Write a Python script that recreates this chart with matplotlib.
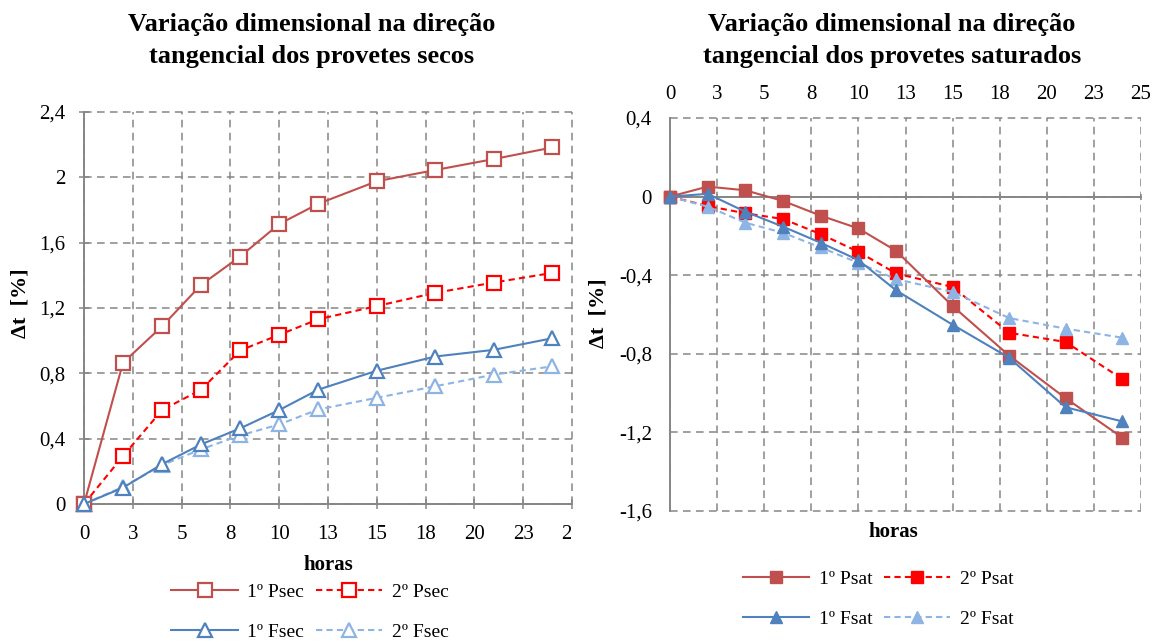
import matplotlib
matplotlib.use("Agg")
import matplotlib.pyplot as plt
from matplotlib.ticker import FixedLocator
from matplotlib.transforms import Bbox

plt.rcParams['font.family'] = ['Liberation Serif', 'DejaVu Serif']

# ---- data ----
horas = [0, 2, 4, 6, 8, 10, 12, 15, 18, 21, 24]

psec1 = [0, 0.865, 1.088, 1.342, 1.515, 1.714, 1.838, 1.976, 2.045, 2.112, 2.183]
psec2 = [0, 0.294, 0.575, 0.700, 0.940, 1.036, 1.131, 1.212, 1.293, 1.356, 1.415]
fsec1 = [0, 0.100, 0.244, 0.365, 0.463, 0.575, 0.700, 0.816, 0.903, 0.944, 1.015]
fsec2 = [0, 0.105, 0.238, 0.335, 0.420, 0.487, 0.579, 0.650, 0.721, 0.792, 0.843]

psat1 = [0, 0.051, 0.032, -0.022, -0.097, -0.162, -0.276, -0.557, -0.809, -1.026, -1.226]
psat2 = [0, -0.048, -0.085, -0.114, -0.191, -0.281, -0.391, -0.460, -0.693, -0.740, -0.928]
fsat1 = [0, 0.014, -0.077, -0.153, -0.235, -0.323, -0.477, -0.652, -0.820, -1.072, -1.144]
fsat2 = [0, -0.051, -0.133, -0.184, -0.259, -0.337, -0.420, -0.485, -0.618, -0.672, -0.718]

xticks = [0, 2.5, 5, 7.5, 10, 12.5, 15, 17.5, 20, 22.5, 25]
xticklabels = ['0', '3', '5', '8', '10', '13', '15', '18', '20', '23', '25']
yticks_sec = [0, 0.4, 0.8, 1.2, 1.6, 2.0, 2.4]
yticklabels_sec = ['0', '0,4', '0,8', '1,2', '1,6', '2', '2,4']
yticks_sat = [-1.6, -1.2, -0.8, -0.4, 0, 0.4]
yticklabels_sat = ['-1,6', '-1,2', '-0,8', '-0,4', '0', '0,4']

title_sec = 'Variação dimensional na direção\ntangencial dos provetes secos'
title_sat = 'Variação dimensional na direção\ntangencial dos provetes saturados'
labels_sec = ['1º Psec', '2º Psec', '1º Fsec', '2º Fsec']
labels_sat = ['1º Psat', '2º Psat', '1º Fsat', '2º Fsat']

c_p1 = '#C0504D'
c_p2 = '#FF0000'
c_f1 = '#4F81BD'
c_f2 = '#8EB4E3'
gridc = '#868686'

W, H = 1156, 642
fig = plt.figure(figsize=(W / 100, H / 100), dpi=100)

def px_axes(l, r, t, b):
    return fig.add_axes([l / W, (H - b) / H, (r - l) / W, (b - t) / H])

L1, R1, T1, B1 = 84, 572, 112, 504
L2, R2, T2, B2 = 670, 1141, 118, 511
ax1 = px_axes(L1, R1, T1, B1)
ax2 = px_axes(L2, R2, T2, B2)

FS = 15
LFS = 14
TFS = 19

def style(ax, yticks, ylabels):
    ax.set_xlim(0, 25)
    ax.set_ylim(yticks[0], yticks[-1])
    ax.xaxis.set_major_locator(FixedLocator(xticks))
    ax.set_xticklabels(xticklabels)
    ax.yaxis.set_major_locator(FixedLocator(yticks))
    ax.set_yticklabels(ylabels)
    ax.grid(True, color=gridc, linestyle=(0, (5, 3.5)), linewidth=1.1)
    for s in ['top', 'right']:
        ax.spines[s].set_visible(False)
    for s in ['left', 'bottom']:
        ax.spines[s].set_color(gridc)
        ax.spines[s].set_linewidth(1.4)
    ax.tick_params(colors=gridc, labelcolor='black', labelsize=FS, width=1.1)
    for gl in ax.get_xgridlines() + ax.get_ygridlines():
        gl.set_clip_on(False)

def legend(ax, handles, labels, cx, cy):
    # reorder so rows read: 1º P, 2º P / 1º F, 2º F
    order = [0, 2, 1, 3]
    ax.legend([handles[i] for i in order], [labels[i] for i in order],
              loc='center', bbox_to_anchor=(cx / W, (H - cy) / H), bbox_transform=fig.transFigure,
              ncol=2, frameon=False, fontsize=LFS, handlelength=3.4, handletextpad=0.5,
              columnspacing=0.6, labelspacing=1.15, borderaxespad=0)

# ---- left chart ----
style(ax1, yticks_sec, yticklabels_sec)
ax1.tick_params(axis='both', direction='inout', length=7)
ax1.tick_params(axis='y', pad=10)
ax1.tick_params(axis='x', pad=11.5)
ms = 9.5
h = []
h += ax1.plot(horas, psec1, color=c_p1, lw=1.5, marker='s', ms=ms, mfc='white', mec=c_p1, mew=1.6, clip_on=False, zorder=5)
h += ax1.plot(horas, psec2, color=c_p2, lw=1.5, ls=(0, (3, 2)), marker='s', ms=ms, mfc='white', mec=c_p2, mew=1.6, clip_on=False, zorder=4)
h += ax1.plot(horas, fsec1, color=c_f1, lw=1.5, marker='^', ms=ms, mfc='white', mec=c_f1, mew=1.6, clip_on=False, zorder=5)
h += ax1.plot(horas, fsec2, color=c_f2, lw=1.5, ls=(0, (3, 2)), marker='^', ms=ms, mfc='white', mec=c_f2, mew=1.6, clip_on=False, zorder=4)
ax1.set_ylabel('Δt  [%]', fontsize=16, fontweight='bold', va='center')
ax1.yaxis.set_label_coords((21 - L1) / (R1 - L1), (B1 - 303) / (B1 - T1))
ax1.set_xlabel('horas', fontsize=FS, fontweight='bold', va='center')
ax1.xaxis.set_label_coords((328 - L1) / (R1 - L1), (B1 - 565) / (B1 - T1))
ax1.set_title(title_sec, fontsize=TFS, fontweight='bold', x=(312 - L1) / (R1 - L1),
              y=(B1 - 40.5) / (B1 - T1), va='center', linespacing=1.49, pad=0)
# last x tick label is cut at the chart edge, as in the original
clipbox = Bbox.from_extents(0, 0, 571, H)
for lab in ax1.get_xticklabels():
    lab.set_clip_box(clipbox)
    lab.set_clip_on(True)
legend(ax1, h, labels_sec, 310, 612)

# ---- right chart ----
style(ax2, yticks_sat, yticklabels_sat)
ax2.spines['bottom'].set_position(('data', 0))
ax2.tick_params(axis='y', length=0, pad=13)
ax2.tick_params(axis='x', bottom=True, labelbottom=False, top=False, labeltop=True,
                direction='inout', length=4, pad=8)
ms2 = 8.5
h2 = []
h2 += ax2.plot(horas, psat1, color=c_p1, lw=1.5, marker='s', ms=ms2, mfc=c_p1, mec=c_p1, clip_on=False, zorder=5)
h2 += ax2.plot(horas, psat2, color=c_p2, lw=1.5, ls=(0, (3, 2)), marker='s', ms=ms2, mfc=c_p2, mec=c_p2, clip_on=False, zorder=4)
h2 += ax2.plot(horas, fsat1, color=c_f1, lw=1.5, marker='^', ms=ms2, mfc=c_f1, mec=c_f1, clip_on=False, zorder=5)
h2 += ax2.plot(horas, fsat2, color=c_f2, lw=1.5, ls=(0, (3, 2)), marker='^', ms=ms2, mfc=c_f2, mec=c_f2, clip_on=False, zorder=4)
ax2.set_ylabel('Δt  [%]', fontsize=16, fontweight='bold', va='center')
ax2.yaxis.set_label_coords((599 - L2) / (R2 - L2), (B2 - 313) / (B2 - T2))
ax2.set_xlabel('horas', fontsize=FS, fontweight='bold', va='center')
ax2.xaxis.set_label_coords((893 - L2) / (R2 - L2), (B2 - 532) / (B2 - T2))
ax2.set_title(title_sat, fontsize=TFS, fontweight='bold', x=(892 - L2) / (R2 - L2),
              y=(B2 - 40.5) / (B2 - T2), va='center', linespacing=1.49, pad=0)
legend(ax2, h2, labels_sat, 878, 599)

fig.savefig('out.png', dpi=100)
